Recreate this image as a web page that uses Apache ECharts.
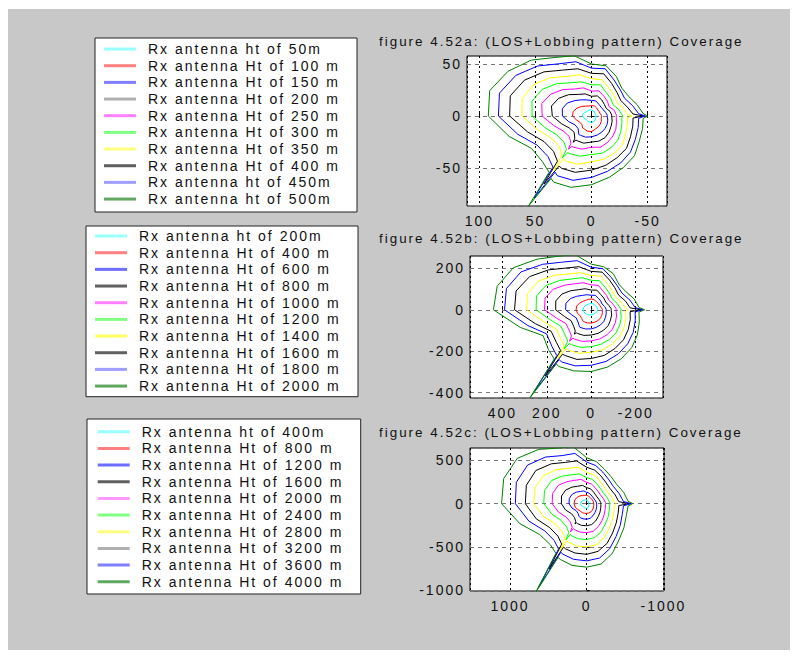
<!DOCTYPE html>
<html>
<head>
<meta charset="utf-8">
<script src="https://cdn.jsdelivr.net/npm/echarts@6/dist/echarts.min.js"></script>
<style>
  html, body { margin: 0; padding: 0; background: #ffffff; }
  #chart { width: 801px; height: 660px; }
  #chart svg text { letter-spacing: 2px; }
</style>
</head>
<body>
<div id="chart"></div>
<script>
// ---------------- data ----------------
// azimuth angles (degrees) at which the coverage radius of each contour was read
const ANGLES = [0,15,30,45,60,75,90,105,120,135,150,165,177,180,183,195,210,225,240,255,270,285,298,301,303,305,315,330,345];

// legend labels
const LABELS_A = ['Rx antenna ht of 50m','Rx antenna Ht of 100 m','Rx antenna Ht of 150 m','Rx antenna Ht of 200 m','Rx antenna Ht of 250 m','Rx antenna Ht of 300 m','Rx antenna Ht of 350 m','Rx antenna Ht of 400 m','Rx antenna ht of 450m','Rx antenna ht of 500m'];
const LABELS_B = ['Rx antenna ht of 200m','Rx antenna Ht of 400 m','Rx antenna Ht of 600 m','Rx antenna Ht of 800 m','Rx antenna Ht of 1000 m','Rx antenna Ht of 1200 m','Rx antenna Ht of 1400 m','Rx antenna Ht of 1600 m','Rx antenna Ht of 1800 m','Rx antenna Ht of 2000 m'];
const LABELS_C = ['Rx antenna ht of 400m','Rx antenna Ht of 800 m','Rx antenna Ht of 1200 m','Rx antenna Ht of 1600 m','Rx antenna Ht of 2000 m','Rx antenna Ht of 2400 m','Rx antenna Ht of 2800 m','Rx antenna Ht of 3200 m','Rx antenna Ht of 3600 m','Rx antenna Ht of 4000 m'];

const TITLES = ['figure 4.52a: (LOS+Lobbing pattern) Coverage','figure 4.52b: (LOS+Lobbing pattern) Coverage','figure 4.52c: (LOS+Lobbing pattern) Coverage'];

// figure a radii
const rA1  = [8,8,7,6,6,6,6,5,5,4,4,4,4,4,4,4,4,5,5,6,6,6,6,6,6,6,6,6,7];
const rA2  = [17,17,15,13,11,10,10,10,9,8,8,8,9,9,9,9,10,11,12,13,15,15,14,14,14,14,12,12,14];
const rA3  = [26,27,25,21,18,16,15,15,13,12,12,13,14,14,14,15,16,17,18,19,20,21,21,21,21,20,17,17,21];
const rA4  = [35,37,34,29,24,22,19,20,18,16,15,17,18,18,18,19,20,22,24,25,25,27,27,27,30,26,22,23,28];
const rA5  = [44,46,42,36,30,28,24,25,22,20,18,21,22,22,22,23,25,27,29,31,30,33,34,34,38,32,28,29,35];
const rA6  = [53,55,51,44,37,34,30,31,26,24,22,25,27,28,27,28,30,33,35,37,37,40,41,41,48,39,35,36,43];
const rA7  = [62,64,60,52,44,41,36,36,31,28,26,29,32,36,32,33,35,39,41,43,44,48,49,48,62,46,41,42,50];
const rA8  = [73,75,69,60,51,47,41,42,36,32,30,33,37,46,37,38,40,44,46,49,52,56,57,56,78,53,48,49,59];
const rA9  = [83,85,78,68,58,54,46,47,40,36,34,38,42,48,42,43,45,49,52,55,59,64,65,63,94,60,55,56,68];
const rA10 = [92,94,86,76,65,60,50,50,44,38,38,42,46,50,46,47,49,54,57,61,66,71,72,70,103,66,62,62,76];

// figure b radii
const rB1  = [36,36,34,32,30,30,30,30,28,28,28,28,30,30,30,28,26,24,24,24,24,26,28,28,28,28,30,32,35];
const rB2  = [68,68,62,56,52,52,52,50,46,44,44,46,50,50,50,52,55,58,60,62,64,66,66,66,66,66,60,58,64];
const rB3  = [115,118,108,92,80,75,70,72,64,60,56,62,67,67,67,70,74,80,84,88,92,96,98,98,98,94,84,78,92];
const rB4  = [160,165,152,130,112,105,95,98,85,80,75,82,90,90,90,95,100,108,113,118,122,128,130,130,140,125,112,105,125];
const rB5  = [210,215,198,168,145,135,120,122,105,98,92,102,112,112,112,118,125,134,140,146,150,158,160,160,180,155,140,132,160];
const rB6  = [248,255,235,200,172,160,142,145,125,115,108,120,132,135,132,140,148,158,165,172,178,188,190,190,225,184,168,158,190];
const rB7  = [290,298,275,235,200,185,165,168,145,132,125,140,155,165,155,162,170,182,190,200,205,218,220,220,280,212,195,183,222];
const rB8  = [345,350,320,272,232,215,185,188,165,150,142,160,175,225,175,182,192,205,215,228,235,248,250,250,380,240,222,208,260];
const rB9  = [390,395,365,310,265,245,205,205,180,165,160,180,198,232,198,205,218,232,245,258,268,280,285,280,470,270,250,232,295];
const rB10 = [440,438,405,345,298,275,220,215,200,175,178,200,215,240,215,224,240,258,272,286,298,305,310,305,505,290,272,250,330];

// figure c radii
const rC1  = [80,75,65,55,48,45,42,38,32,28,26,26,26,26,26,28,32,40,46,52,54,54,54,54,54,54,55,62,72];
const rC2  = [165,160,145,125,110,100,95,90,85,82,85,90,92,92,92,95,100,105,110,112,112,115,118,118,118,118,120,135,155];
const rC3  = [230,235,218,188,162,152,130,125,115,110,110,120,130,130,130,135,142,150,162,175,180,182,182,180,182,176,158,160,198];
const rC4  = [330,340,315,270,232,218,185,178,165,155,155,170,185,185,185,190,200,212,232,250,255,260,260,258,280,250,225,230,285];
const rC5  = [450,460,425,360,310,290,245,235,215,205,205,225,245,245,245,250,262,280,305,330,335,340,340,335,390,330,300,310,380];
const rC6  = [560,570,530,450,385,355,300,290,265,250,250,275,300,310,300,305,320,340,375,405,415,420,420,415,500,405,375,385,470];
const rC7  = [690,700,650,555,470,435,360,345,320,300,300,330,360,380,360,368,385,410,455,490,500,505,505,500,650,490,455,470,580];
const rC8  = [800,815,765,650,550,510,420,400,370,350,350,385,420,560,420,425,445,478,530,570,585,590,590,585,900,570,530,555,680];
const rC9  = [930,950,890,760,640,600,480,455,420,400,400,440,480,580,480,480,505,540,600,650,660,665,660,655,1150,640,600,630,780];
const rC10 = [1110,1120,1045,885,740,680,530,500,460,445,450,500,540,600,540,535,560,594,665,722,733,738,730,725,1230,700,670,710,900];

// ---------------- styling / layout ----------------
const LINE_COLORS = ['#00ffff','#ff0000','#0000ff','#000000','#ff00ff','#00ff00','#ffff00','#000000','#0000ff','#008000'];
const LEGEND_COLORS = [
  ['#99ffff','#ff8080','#7f7fff','#b0b0b0','#ff80ff','#80ff80','#ffff80','#606060','#9f9fff','#60a860'],
  ['#99ffff','#ff8080','#6f6fff','#606060','#ff80ff','#80ff80','#ffff60','#606060','#9f9fff','#60a860'],
  ['#99ffff','#ff8080','#6f6fff','#606060','#ff99ff','#80ff80','#ffff80','#b0b0b0','#7f7fff','#60a860']
];
const FONT = "'Liberation Sans', Arial, sans-serif";

const radiiSets = [
  [rA1,rA2,rA3,rA4,rA5,rA6,rA7,rA8,rA9,rA10],
  [rB1,rB2,rB3,rB4,rB5,rB6,rB7,rB8,rB9,rB10],
  [rC1,rC2,rC3,rC4,rC5,rC6,rC7,rC8,rC9,rC10]
];
const labelSets = [LABELS_A, LABELS_B, LABELS_C];

const grids = [
  {left: 467, top: 56, width: 200, height: 150},
  {left: 470, top: 256, width: 193, height: 142},
  {left: 470, top: 448, width: 194, height: 143}
];
const xRanges = [[-67.2, 111], [-322.8, 545.3], [-1008, 1521.5]];
const yRanges = [[-86.5, 57.7], [-425.6, 259.3], [-1008, 641.9]];
const xSplit = [4, 4, 3];
const ySplit = [3, 3, 3];
const titleTops = [35, 232, 426];

const legendPos = [
  {left: 95, top: 38, padding: [2.7, 9, 4.6, 9]},
  {left: 86, top: 226, padding: [1.7, 19, 2.3, 9]},
  {left: 87, top: 419, padding: [4.4, 19, 3.9, 10.7]}
];

function toXY(radii) {
  const pts = ANGLES.map((a, i) => {
    const t = a * Math.PI / 180;
    return [radii[i] * Math.cos(t), radii[i] * Math.sin(t)];
  });
  pts.push(pts[0]);
  return pts;
}

const series = [];
radiiSets.forEach((set, p) => {
  set.forEach((radii, k) => {
    series.push({
      type: 'line',
      name: labelSets[p][k],
      xAxisIndex: p, yAxisIndex: p,
      data: toXY(radii),
      showSymbol: false, symbol: 'none',
      lineStyle: {color: LINE_COLORS[k], width: 1},
      itemStyle: {color: LINE_COLORS[k]},
      animation: false,
      silent: true,
      clip: true
    });
  });
});

const axisLabelStyle = {fontSize: 14, color: '#111', fontFamily: FONT, showMinLabel: false, showMaxLabel: false,
  formatter: v => String(Math.round(v))};

const option = {
  backgroundColor: '#ffffff',
  animation: false,
  graphic: [{
    type: 'rect', z: -10, silent: true,
    shape: {x: 8, y: 9, width: 782, height: 641},
    style: {fill: '#c8c8c8'}
  }],
  title: TITLES.map((t, p) => ({
    text: t, left: 379, top: titleTops[p], padding: 0,
    textStyle: {fontSize: 13.4, fontWeight: 'normal', color: '#111', fontFamily: FONT}
  })),
  legend: legendPos.map((lp, p) => ({
    orient: 'vertical', left: lp.left, top: lp.top, padding: lp.padding,
    itemGap: 0, itemWidth: 32, itemHeight: 3, icon: 'rect',
    backgroundColor: '#ffffff', borderColor: '#222', borderWidth: 1,
    selectedMode: false,
    textStyle: {fontSize: 14, color: '#111', fontFamily: FONT, lineHeight: 16.67, width: 200, padding: [0, 0, 0, 7]},
    data: labelSets[p].map((n, k) => ({name: n, itemStyle: {color: LEGEND_COLORS[p][k], borderWidth: 0}}))
  })),
  grid: grids.map(g => Object.assign({show: true, backgroundColor: '#ffffff', borderColor: '#000', borderWidth: 1}, g)),
  xAxis: grids.map((g, p) => ({
    type: 'value', gridIndex: p, inverse: true,
    min: xRanges[p][0], max: xRanges[p][1], splitNumber: xSplit[p],
    axisLine: {show: false},
    axisTick: {show: true, inside: true, length: 3, lineStyle: {color: '#000'}},
    axisLabel: Object.assign({margin: 8}, axisLabelStyle),
    splitLine: {show: true, lineStyle: {color: '#000', type: [2, 3], width: 1}}
  })),
  yAxis: grids.map((g, p) => ({
    type: 'value', gridIndex: p,
    min: yRanges[p][0], max: yRanges[p][1], splitNumber: ySplit[p],
    axisLine: {show: false},
    axisTick: {show: true, inside: true, length: 3, lineStyle: {color: '#000'}},
    axisLabel: Object.assign({margin: 5}, axisLabelStyle),
    splitLine: {show: true, lineStyle: {color: '#777', type: [4, 4], width: 1}}
  })),
  series: series
};

const chart = echarts.init(document.getElementById('chart'), null, {renderer: 'svg', width: 801, height: 660});
chart.setOption(option);
</script>
</body>
</html>
